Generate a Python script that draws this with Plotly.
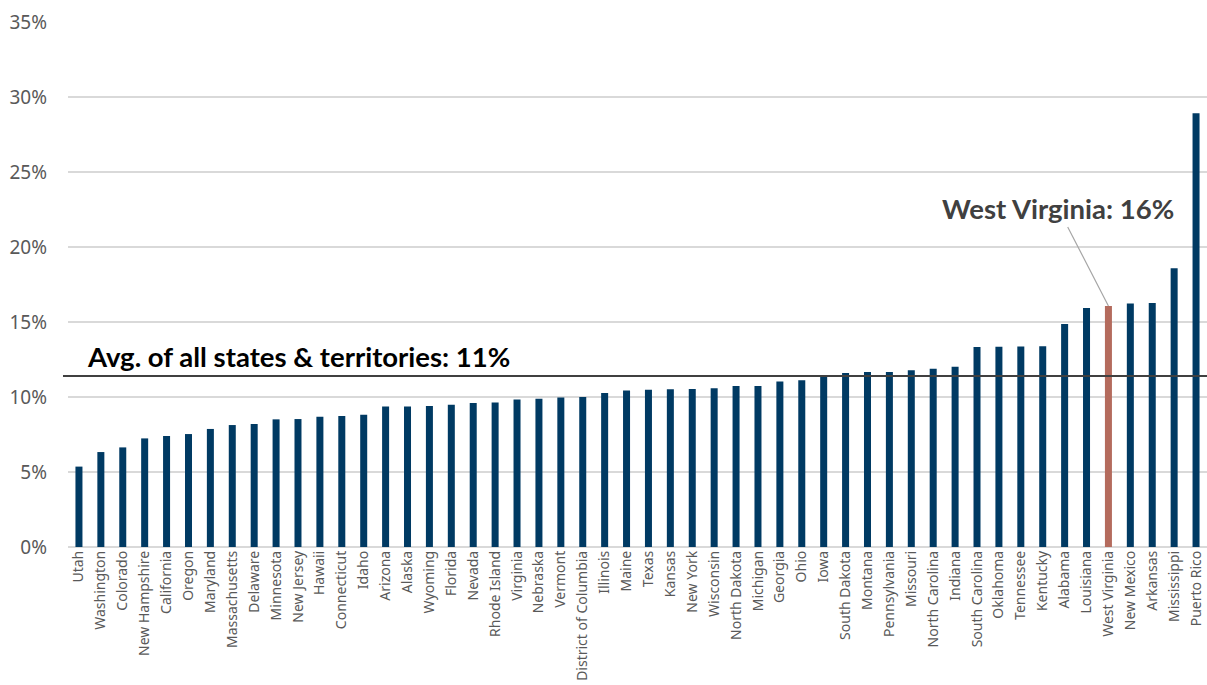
import plotly.graph_objects as go

states = ["Utah", "Washington", "Colorado", "New Hampshire", "California", "Oregon", "Maryland",
          "Massachusetts", "Delaware", "Minnesota", "New Jersey", "Hawaii", "Connecticut", "Idaho",
          "Arizona", "Alaska", "Wyoming", "Florida", "Nevada", "Rhode Island", "Virginia", "Nebraska",
          "Vermont", "District of Columbia", "Illinois", "Maine", "Texas", "Kansas", "New York",
          "Wisconsin", "North Dakota", "Michigan", "Georgia", "Ohio", "Iowa", "South Dakota", "Montana",
          "Pennsylvania", "Missouri", "North Carolina", "Indiana", "South Carolina", "Oklahoma",
          "Tennessee", "Kentucky", "Alabama", "Louisiana", "West Virginia", "New Mexico", "Arkansas",
          "Mississippi", "Puerto Rico"]
values = [5.36, 6.33, 6.64, 7.24, 7.40, 7.53, 7.87,
          8.13, 8.20, 8.51, 8.53, 8.69, 8.73, 8.82,
          9.36, 9.36, 9.40, 9.49, 9.60, 9.64, 9.84, 9.89,
          9.96, 10.00, 10.27, 10.44, 10.49, 10.51, 10.53,
          10.58, 10.73, 10.73, 11.04, 11.11, 11.33, 11.60, 11.67,
          11.67, 11.78, 11.89, 12.02, 13.33, 13.35,
          13.36, 13.38, 14.87, 15.93, 16.07, 16.24, 16.27,
          18.58, 28.91]
average = 11.4
highlight = "West Virginia"
y_ticks = [0, 5, 10, 15, 20, 25, 30, 35]
y_tick_labels = [f"{t}%" for t in y_ticks]

BAR = "#003A63"
HL = "#B46B5D"
colors = [HL if s == highlight else BAR for s in states]

fig = go.Figure()
fig.add_trace(go.Bar(x=states, y=values, marker=dict(color=colors, line=dict(width=0)),
                     hoverinfo="x+y"))

fig.add_shape(type="line", xref="paper", yref="y", x0=-0.0044, x1=1, y0=average, y1=average,
              line=dict(color="#404040", width=2.2), layer="above")

fig.add_annotation(xref="paper", yref="paper", x=0.0149, y=0.3638, xanchor="left", yanchor="middle",
                   text="<b>Avg. of all states &amp; territories: 11%</b>", showarrow=False,
                   font=dict(family="Lato", size=27.5, color="#000000"))

hl_val = values[states.index(highlight)]
fig.add_annotation(x=highlight, y=hl_val, xref="x", yref="y",
                   text="<b>West Virginia: 16%</b>", showarrow=True, arrowhead=0,
                   arrowwidth=1.2, arrowcolor="#A6A6A6", ax=-50, ay=-97,
                   font=dict(family="Lato", size=27.5, color="#404040"))

fig.update_layout(
    width=1207, height=685,
    margin=dict(l=68, r=0, t=22, b=138),
    paper_bgcolor="white", plot_bgcolor="white",
    bargap=0.68,
    showlegend=False,
    font=dict(family="Noto Sans", color="#595959"),
)
fig.update_xaxes(tickangle=-90, tickfont=dict(family="Noto Sans", size=14, color="#595959"),
                 showgrid=False, showline=False, ticks="", range=[-0.5, len(states) - 0.5],
                 automargin=False)
fig.update_yaxes(range=[0, 35], tickvals=y_ticks, ticktext=y_tick_labels,
                 tickfont=dict(family="Noto Sans", size=19, color="#595959"), showgrid=True,
                 gridcolor="#D9D9D9", gridwidth=1.5, zeroline=True, zerolinecolor="#D9D9D9",
                 zerolinewidth=1.5, ticks="", ticklabelstandoff=20, showline=False,
                 automargin=False)

fig.write_html("out.html")
